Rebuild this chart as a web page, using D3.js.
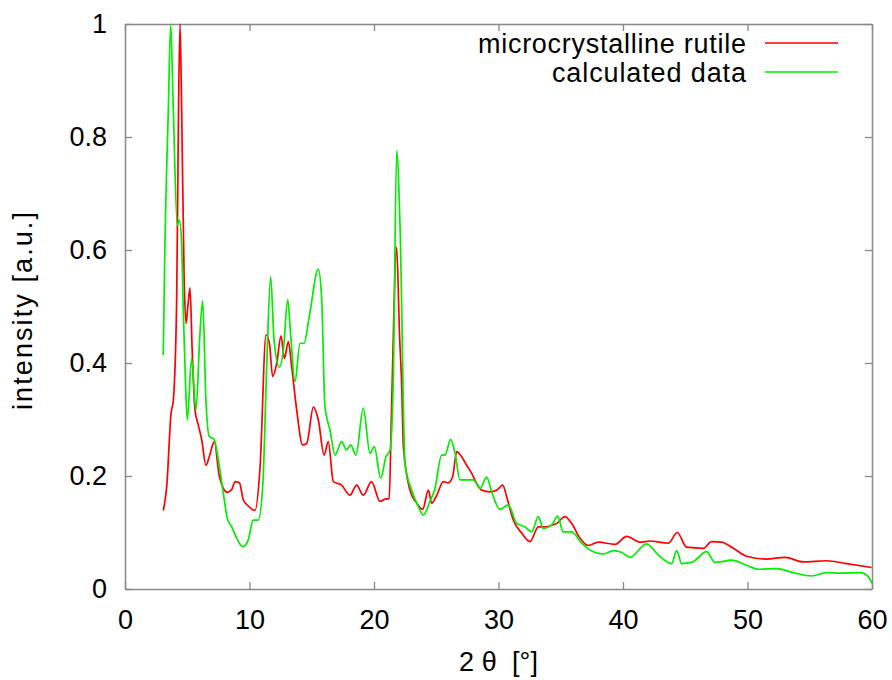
<!DOCTYPE html>
<html>
<head>
<meta charset="utf-8">
<script src="https://cdn.jsdelivr.net/npm/d3@7"></script>
<style>
  html, body { margin: 0; padding: 0; background: #fff; }
  svg { display: block; }
  text { font-family: "Liberation Sans", Arial, sans-serif; fill: #000; }
</style>
</head>
<body>
<svg id="chart" width="892" height="680"></svg>
<script>
// ---- data ----
const seriesNames = ["microcrystalline rutile", "calculated data"];
const seriesColors = ["#ff0000", "#00ee00"];

const rutileX = [3.08,3.35,3.7,3.88,4.15,4.3,4.42,4.55,4.75,4.9,5.05,5.22,5.4,5.62,5.89,6.16,6.5,6.77,7.17,7.58,8.22,8.57,8.84,9.19,9.5,9.9,10.44,10.85,11.33,11.6,11.86,12.19,12.53,12.8,13.12,13.39,13.79,14.27,14.6,15.13,15.53,15.99,16.33,16.73,17.4,18.07,18.6,19.14,19.8,20.48,20.88,21.22,21.4,21.82,22.05,22.22,22.36,22.89,23.43,23.91,24.37,24.63,25.04,25.57,25.97,26.32,26.64,27.04,27.44,27.84,28.24,28.65,29.32,29.86,30.34,30.66,31.19,31.86,32.53,33.2,33.87,34.14,34.67,35.34,35.88,36.55,37.21,38.02,39.36,40.3,41.37,42.17,43.64,44.36,45.11,46.45,47.12,47.92,48.86,49.93,51.53,53.01,54.48,56.35,57.96,59.97];
const rutileY = [0.139,0.181,0.311,0.334,0.512,0.85,1.0,0.85,0.55,0.47,0.50,0.533,0.42,0.317,0.29,0.264,0.219,0.234,0.261,0.199,0.171,0.176,0.19,0.188,0.158,0.147,0.139,0.216,0.45,0.435,0.376,0.4,0.448,0.408,0.438,0.393,0.317,0.255,0.258,0.322,0.299,0.237,0.261,0.19,0.184,0.166,0.184,0.166,0.19,0.155,0.159,0.16,0.311,0.605,0.45,0.364,0.252,0.175,0.152,0.141,0.175,0.152,0.166,0.19,0.188,0.199,0.243,0.234,0.219,0.205,0.187,0.175,0.172,0.175,0.184,0.163,0.122,0.099,0.084,0.11,0.11,0.112,0.116,0.128,0.116,0.09,0.077,0.083,0.079,0.093,0.083,0.085,0.081,0.1,0.074,0.072,0.084,0.083,0.072,0.058,0.053,0.056,0.048,0.05,0.045,0.038];

const calcX = [3.07,3.21,3.48,3.67,3.88,4.2,4.36,4.55,4.68,4.82,5.0,5.35,5.7,6.02,6.24,6.5,6.77,7.15,7.5,7.9,8.22,8.57,8.97,9.45,9.9,10.3,10.7,11.06,11.38,11.7,11.97,12.4,12.72,13.07,13.3,13.65,14.06,14.38,14.8,15.53,15.8,16.06,16.47,16.87,17.4,17.8,18.13,18.55,19.14,19.68,20.02,20.54,20.96,21.29,21.55,21.82,22.1,22.49,23.02,23.56,23.96,24.5,24.9,25.43,25.7,26.16,26.51,26.91,27.44,27.98,28.51,29.05,29.45,30.12,30.79,31.46,32.13,32.67,33.2,33.6,34.27,34.75,35.2,35.88,36.68,37.35,38.42,39.22,39.89,40.56,41.9,42.84,43.91,44.31,44.71,45.51,46.72,47.39,48.73,49.93,50.86,52.34,53.67,55.15,56.35,57.43,59.04,59.7,60.0];
const calcY = [0.414,0.612,0.848,1.0,0.848,0.644,0.653,0.612,0.494,0.393,0.299,0.408,0.317,0.452,0.51,0.334,0.27,0.265,0.228,0.169,0.125,0.11,0.09,0.075,0.087,0.122,0.122,0.181,0.393,0.553,0.441,0.393,0.423,0.512,0.452,0.367,0.435,0.435,0.482,0.566,0.512,0.323,0.281,0.237,0.261,0.246,0.255,0.237,0.32,0.24,0.252,0.196,0.234,0.246,0.37,0.776,0.635,0.222,0.175,0.146,0.131,0.155,0.178,0.237,0.237,0.265,0.24,0.193,0.193,0.193,0.178,0.198,0.172,0.141,0.149,0.116,0.11,0.101,0.128,0.107,0.113,0.129,0.101,0.101,0.081,0.069,0.062,0.068,0.065,0.056,0.08,0.06,0.045,0.068,0.045,0.047,0.066,0.047,0.051,0.042,0.035,0.036,0.029,0.023,0.029,0.028,0.029,0.022,0.01];

const xTicks = [0,10,20,30,40,50,60];
const yTicks = [0,0.2,0.4,0.6,0.8,1];
const xLabel = "2 \u03b8  [\u00b0]";
const yLabel = "intensity [a.u.]";

// ---- layout ----
const L = 125, R = 872, T = 24, B = 589;
const svg = d3.select("#chart");
const x = d3.scaleLinear().domain([0, 60]).range([L, R]);
const y = d3.scaleLinear().domain([0, 1]).range([B, T]);
const axisColor = "#888";
const fontSize = 27;

svg.append("defs").append("clipPath").attr("id", "clip")
  .append("rect").attr("x", L).attr("y", T - 1).attr("width", R - L).attr("height", B - T + 1);

function styleAxis(g) {
  g.selectAll(".domain").attr("stroke", axisColor).attr("stroke-width", 1.5);
  g.selectAll(".tick line").attr("stroke", axisColor).attr("stroke-width", 1.3);
  g.selectAll(".tick text").attr("font-size", fontSize).attr("font-family", "Liberation Sans, Arial, sans-serif").attr("fill", "#000");
}

const fmtY = d => d === 0 ? "0" : d === 1 ? "1" : d3.format(".1f")(d);

svg.append("g").attr("transform", `translate(0,${B})`)
  .call(d3.axisBottom(x).tickValues(xTicks).tickSize(-7).tickPadding(21).tickSizeOuter(0))
  .call(styleAxis);
svg.append("g").attr("transform", `translate(0,${T})`)
  .call(d3.axisTop(x).tickValues(xTicks).tickSize(-7).tickFormat("").tickSizeOuter(0))
  .call(styleAxis);
svg.append("g").attr("transform", `translate(${L},0)`)
  .call(d3.axisLeft(y).tickValues(yTicks).tickSize(-7).tickPadding(18).tickFormat(fmtY).tickSizeOuter(0))
  .call(styleAxis);
svg.append("g").attr("transform", `translate(${R},0)`)
  .call(d3.axisRight(y).tickValues(yTicks).tickSize(-7).tickFormat("").tickSizeOuter(0))
  .call(styleAxis);

// ---- lines ----
const line = d3.line().x(d => x(d[0])).y(d => y(d[1])).curve(d3.curveMonotoneX);
const series = [
  d3.zip(rutileX, rutileY),
  d3.zip(calcX, calcY)
];
const plot = svg.append("g").attr("clip-path", "url(#clip)");
series.forEach((s, i) => {
  plot.append("path").datum(s)
    .attr("fill", "none")
    .attr("stroke", seriesColors[i])
    .attr("stroke-width", 1.7)
    .attr("stroke-linejoin", "round")
    .attr("d", line);
});

// ---- legend ----
const legendY = [43, 72];
const legendLen = [268, 194];
seriesNames.forEach((name, i) => {
  svg.append("text").attr("x", 746 - legendLen[i]).attr("y", legendY[i]).attr("dy", "0.36em")
    .attr("text-anchor", "start").attr("font-size", fontSize)
    .attr("textLength", legendLen[i]).attr("lengthAdjust", "spacing").text(name);
  svg.append("line").attr("x1", 765).attr("x2", 838).attr("y1", legendY[i]).attr("y2", legendY[i])
    .attr("stroke", seriesColors[i]).attr("stroke-width", 1.7);
});

// ---- axis titles ----
svg.append("text").attr("x", 459).attr("y", 671)
  .attr("text-anchor", "start").attr("font-size", fontSize)
  .style("white-space", "pre").attr("xml:space", "preserve")
  .attr("textLength", 79).attr("lengthAdjust", "spacing").text(xLabel);
svg.append("text").attr("transform", `translate(32,410) rotate(-90)`)
  .attr("text-anchor", "start").attr("font-size", fontSize)
  .attr("textLength", 198).attr("lengthAdjust", "spacing").text(yLabel);
</script>
</body>
</html>
